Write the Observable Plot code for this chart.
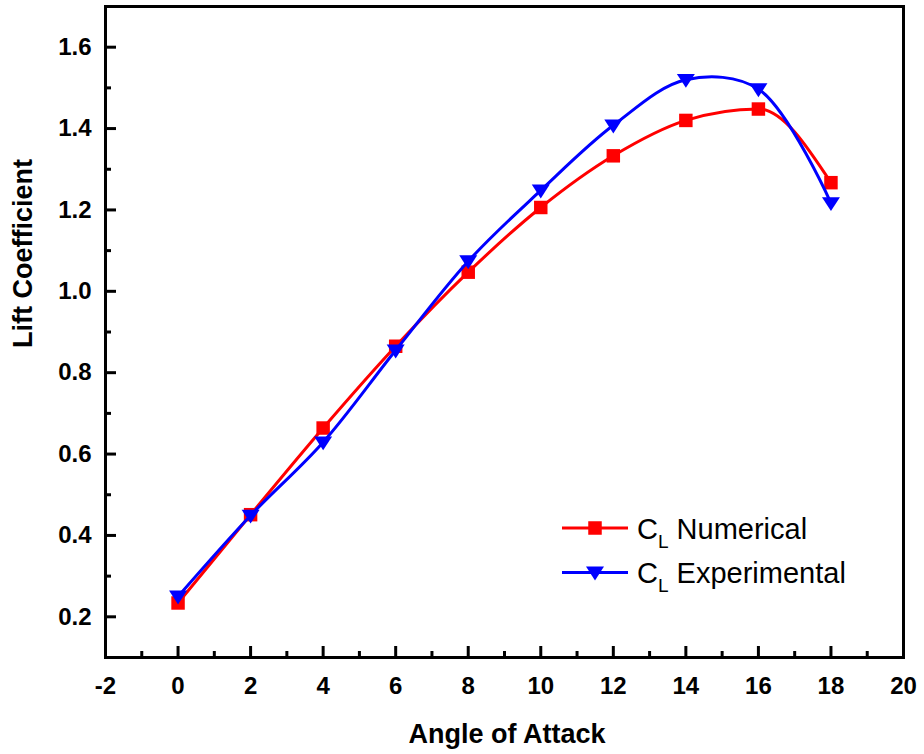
<!DOCTYPE html>
<html><head><meta charset="utf-8">
<script src="https://cdn.jsdelivr.net/npm/d3@7"></script>
<script src="https://cdn.jsdelivr.net/npm/@observablehq/plot@0.6"></script>
<style>
html,body{margin:0;padding:0;background:#fff;}
#chart{width:924px;height:754px;}
</style></head><body><div id="chart"></div>
<script>
// ---- data ----
const angles = [0, 2, 4, 6, 8, 10, 12, 14, 16, 18];
const clNumerical = [0.234, 0.451, 0.664, 0.865, 1.047, 1.206, 1.333, 1.420, 1.448, 1.267];
const clExperimental = [0.250, 0.449, 0.629, 0.855, 1.074, 1.248, 1.408, 1.520, 1.497, 1.217];
const seriesLabels = ["Numerical", "Experimental"];
const xMajorTicks = [-2, 0, 2, 4, 6, 8, 10, 12, 14, 16, 18, 20];
const xMinorTicks = [-1, 1, 3, 5, 7, 9, 11, 13, 15, 17, 19];
const yMajorTicks = [0.2, 0.4, 0.6, 0.8, 1.0, 1.2, 1.4, 1.6];
const yMinorTicks = [0.3, 0.5, 0.7, 0.9, 1.1, 1.3, 1.5];
const xTitle = "Angle of Attack";
const yTitle = "Lift Coefficient";

const rows = angles.map((a, i) => ({angle: a, num: clNumerical[i], exp: clExperimental[i]}));

const W = 924, H = 754, mL = 105, mR = 21, mT = 6, mB = 97;
const frameW = W - mL - mR, frameH = H - mT - mB;
const FONT = "'Liberation Sans', Arial, sans-serif";

const triangleDown = {
  draw(ctx, size) {
    const r = Math.sqrt(size / Math.PI);
    ctx.moveTo(-r, -0.65 * r);
    ctx.lineTo(r, -0.65 * r);
    ctx.lineTo(0, 0.9 * r);
    ctx.closePath();
  }
};

const plot = Plot.plot({
  width: W, height: H,
  marginLeft: mL, marginRight: mR, marginTop: mT, marginBottom: mB,
  style: {fontFamily: FONT, fontSize: "24px", fontWeight: "bold", color: "#000", background: "#fff"},
  x: {domain: [-2, 20]},
  y: {domain: [0.1, 1.7]},
  marks: [
    Plot.axisX({ticks: xMajorTicks, tickSize: 0, tickPadding: 19, tickFormat: d => String(d), label: null, fontSize: 24, fontWeight: "bold"}),
    Plot.axisY({ticks: yMajorTicks, tickSize: 0, tickPadding: 14, tickFormat: d3.format(".1f"), label: null, fontSize: 24, fontWeight: "bold"}),
    Plot.tickX(xMajorTicks, {x: d => d, insetTop: frameH - 11, stroke: "#000", strokeWidth: 3}),
    Plot.tickX(xMinorTicks, {x: d => d, insetTop: frameH - 6, stroke: "#000", strokeWidth: 3}),
    Plot.tickY(yMajorTicks, {y: d => d, insetRight: frameW - 11, stroke: "#000", strokeWidth: 3}),
    Plot.tickY(yMinorTicks, {y: d => d, insetRight: frameW - 6, stroke: "#000", strokeWidth: 3}),
    Plot.line(rows, {x: "angle", y: "num", stroke: "#ff0000", strokeWidth: 3, curve: "monotone-x"}),
    Plot.dot(rows, {x: "angle", y: "num", symbol: "square", r: 7.6, fill: "#ff0000", stroke: null}),
    Plot.line(rows, {x: "angle", y: "exp", stroke: "#0000ff", strokeWidth: 3, curve: "catmull-rom"}),
    Plot.dot(rows, {x: "angle", y: "exp", symbol: triangleDown, r: 9, fill: "#0000ff", stroke: null}),
    Plot.frame({stroke: "#000", strokeWidth: 3}),
    Plot.text([yTitle], {text: d => d, frameAnchor: "left", dx: -82.5, dy: 16, rotate: -90, fontSize: 27, fontWeight: "bold", lineAnchor: "middle", fill: "#000"}),
    Plot.text([xTitle], {text: d => d, frameAnchor: "bottom", dx: 2.5, dy: 77, fontSize: 27, fontWeight: "bold", lineAnchor: "middle", fill: "#000"})
  ]
});

// ---- legend ----
const svg = d3.select(plot);
const lg = svg.append("g").attr("class", "legend");
const legendItems = [
  {label: seriesLabels[0], color: "#ff0000", y: 528, shape: "square"},
  {label: seriesLabels[1], color: "#0000ff", y: 572.5, shape: "tri"}
];
legendItems.forEach(it => {
  lg.append("line").attr("x1", 562).attr("x2", 628).attr("y1", it.y).attr("y2", it.y)
    .attr("stroke", it.color).attr("stroke-width", 3);
  if (it.shape === "square") {
    lg.append("rect").attr("x", 595 - 6.75).attr("y", it.y - 6.75).attr("width", 13.5).attr("height", 13.5).attr("fill", it.color);
  } else {
    lg.append("path").attr("d", `M${595 - 9},${it.y - 6}L${595 + 9},${it.y - 6}L595,${it.y + 8}Z`).attr("fill", it.color);
  }
  const t = lg.append("text").attr("x", 637).attr("y", it.y + 10.5)
    .attr("text-anchor", "start")
    .attr("font-family", FONT).attr("font-size", 29).attr("font-weight", "normal")
    .attr("fill", "#000").style("white-space", "pre");
  t.append("tspan").text("C");
  t.append("tspan").attr("font-size", 19).attr("dy", 9).text("L");
  t.append("tspan").attr("dy", -9).text(" " + it.label);
});

document.getElementById("chart").appendChild(plot);
</script>
</body></html>
